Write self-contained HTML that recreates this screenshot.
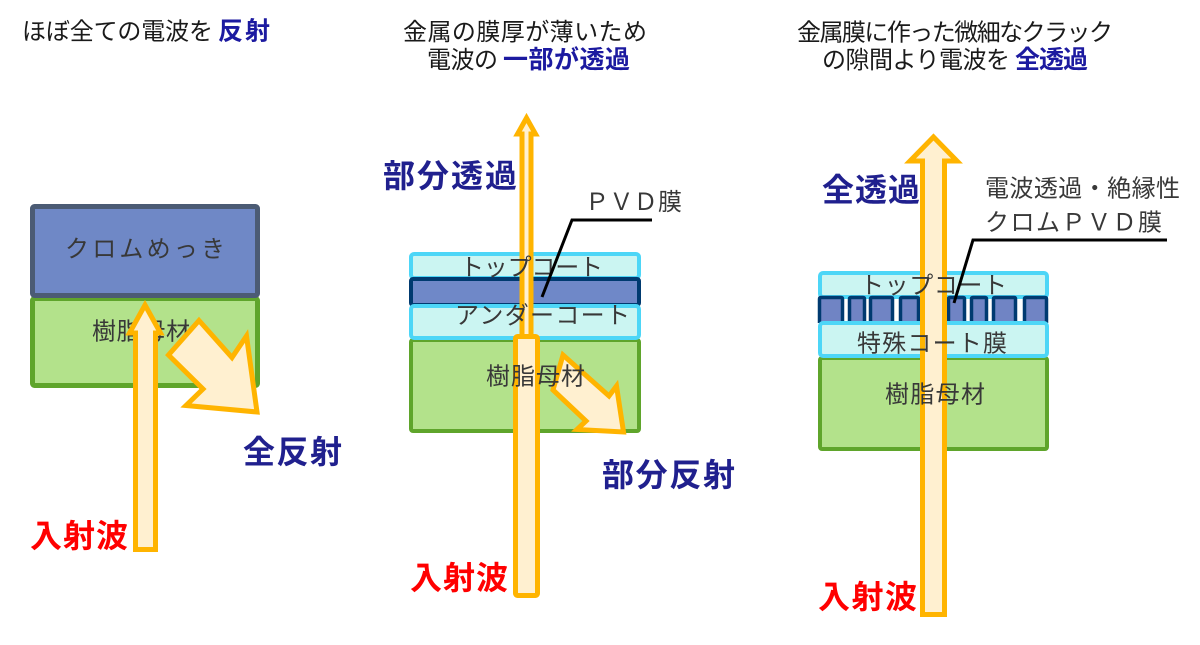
<!DOCTYPE html>
<html><head><meta charset="utf-8">
<style>
html,body{margin:0;padding:0;background:#fff;}
svg{display:block;}
text{font-family:"Liberation Sans","Noto Sans CJK JP",sans-serif;}
.t{font-size:24px;fill:#1a1a1a;}
.tb{font-size:25px;fill:#1c1aa0;font-weight:bold;}
.l{font-size:24px;fill:#383838;}
.big{font-size:32px;font-weight:bold;fill:#20208e;}
.red{font-size:32px;font-weight:bold;fill:#ff0000;}
.arr{fill:#fff0d0;stroke:#ffb400;stroke-width:5;stroke-linejoin:miter;}
</style></head>
<body>
<svg width="1200" height="645" viewBox="0 0 1200 645" xmlns="http://www.w3.org/2000/svg">
<!-- Titles -->
<text class="t" x="22" y="39.5" textLength="191">ほぼ全ての電波を</text>
<text class="tb" x="218" y="39.5" textLength="52">反射</text>

<text class="t" x="403" y="40" textLength="244">金属の膜厚が薄いため</text>
<text class="t" x="427" y="68" textLength="71">電波の</text>
<text class="tb" x="503" y="68" textLength="127">一部が透過</text>

<text class="t" x="797" y="40.5" textLength="316">金属膜に作った微細なクラック</text>
<text class="t" x="822" y="68" textLength="188">の隙間より電波を</text>
<text class="tb" x="1015" y="68" textLength="73">全透過</text>

<!-- LEFT PANEL -->
<rect x="32.5" y="298.5" width="225" height="87" rx="2" fill="#b3e28b" stroke="#5fa52b" stroke-width="5"/>
<rect x="32.5" y="206.5" width="225" height="89" rx="2" fill="#6f88c6" stroke="#4b5b74" stroke-width="5"/>
<text class="l" x="65" y="257" textLength="160">クロムめっき</text>
<text class="l" x="92" y="339.5" textLength="98">樹脂母材</text>
<!-- incident arrow -->
<path class="arr" d="M145,305 L160.5,333 L155.5,333 L155.5,549.5 L135.5,549.5 L135.5,333 L129.5,333 Z"/>
<!-- reflected arrow -->
<path class="arr" d="M199,320.5 L232,357.5 L246.5,336 L257,412 L186,405.5 L203,389 L168.5,355 Z"/>
<text class="big" x="243" y="463" textLength="99">全反射</text>
<text class="red" x="30" y="547" textLength="98">入射波</text>

<!-- MIDDLE PANEL -->
<rect x="411" y="340" width="228" height="91" rx="2" fill="#b3e28b" stroke="#5fa52b" stroke-width="4"/>
<rect x="411" y="254" width="228" height="24" rx="3" fill="#cbf5f2" stroke="#4dd6f7" stroke-width="4"/>
<rect x="411" y="279" width="228" height="26" rx="2" fill="#6f88c8" stroke="#003a70" stroke-width="4"/>
<rect x="411" y="306" width="228" height="32" rx="3" fill="#cbf5f2" stroke="#4dd6f7" stroke-width="4"/>
<!-- thin transmitted arrow -->
<path class="arr" d="M526.5,118 L535.5,134 L531,134 L531,345 L522,345 L522,134 L517.5,134 Z"/>
<!-- reflected arrow -->
<path class="arr" d="M563,355 L609,396 L616.5,386 L623.5,432 L577,429.5 L586,421 L553,390 Z"/>
<!-- thick incident bar -->
<rect class="arr" x="515.5" y="336.5" width="22" height="259" rx="2"/>
<text class="l" x="460" y="275.5" textLength="143">トップコート</text>
<text class="l" x="455" y="323.5" textLength="175">アンダーコート</text>
<text class="l" x="486" y="384.5" textLength="99">樹脂母材</text>
<text class="l" x="585" y="210" textLength="97">ＰＶＤ膜</text>
<polyline points="652,220 572,220 542,297" fill="none" stroke="#000" stroke-width="3"/>
<text class="big" x="383" y="187" textLength="134">部分透過</text>
<text class="big" x="602" y="486" textLength="133">部分反射</text>
<text class="red" x="410" y="589" textLength="98">入射波</text>

<!-- RIGHT PANEL -->
<rect x="820" y="358" width="227" height="91" rx="2" fill="#b3e28b" stroke="#5fa52b" stroke-width="4"/>
<rect x="820" y="273" width="227" height="24" rx="3" fill="#cbf5f2" stroke="#4dd6f7" stroke-width="4"/>
<g fill="#7084c4" stroke="#003a70" stroke-width="3.5">
  <path d="M819.5,323 V299 Q819.5,297.5 821,297.5 H841 Q842.5,297.5 842.5,299 V323"/>
  <path d="M849.5,323 V299 Q849.5,297.5 851,297.5 H863 Q864.5,297.5 864.5,299 V323"/>
  <path d="M870.5,323 V299 Q870.5,297.5 872,297.5 H891 Q892.5,297.5 892.5,299 V323"/>
  <path d="M900.5,323 V299 Q900.5,297.5 902,297.5 H917 Q918.5,297.5 918.5,299 V323"/>
  <path d="M923.5,323 V299 Q923.5,297.5 925,297.5 H942 Q943.5,297.5 943.5,299 V323"/>
  <path d="M948.5,323 V299 Q948.5,297.5 950,297.5 H963 Q964.5,297.5 964.5,299 V323"/>
  <path d="M971.5,323 V299 Q971.5,297.5 973,297.5 H985 Q986.5,297.5 986.5,299 V323"/>
  <path d="M993.5,323 V299 Q993.5,297.5 995,297.5 H1014 Q1015.5,297.5 1015.5,299 V323"/>
  <path d="M1024.5,323 V299 Q1024.5,297.5 1026,297.5 H1045 Q1046.5,297.5 1046.5,299 V323"/>
</g>
<rect x="820" y="323" width="227" height="33" rx="3" fill="#cbf5f2" stroke="#4dd6f7" stroke-width="4"/>
<!-- transmitted arrow -->
<path class="arr" d="M933.5,137 L957,161 L944.5,161 L944.5,614.5 L922.5,614.5 L922.5,161 L910,161 Z"/>
<text class="l" x="860" y="293.5" textLength="147">トップコート</text>
<text class="l" x="857" y="351.5" textLength="150">特殊コート膜</text>
<text class="l" x="885" y="402.5" textLength="100">樹脂母材</text>
<text class="l" x="985" y="196.5" textLength="195">電波透過・絶縁性</text>
<text class="l" x="985" y="230.5" textLength="177">クロムＰＶＤ膜</text>
<polyline points="1167,240 973,240 954,303" fill="none" stroke="#000" stroke-width="3"/>
<text class="big" x="822" y="201" textLength="98">全透過</text>
<text class="red" x="818" y="608" textLength="99">入射波</text>
</svg>
</body></html>
